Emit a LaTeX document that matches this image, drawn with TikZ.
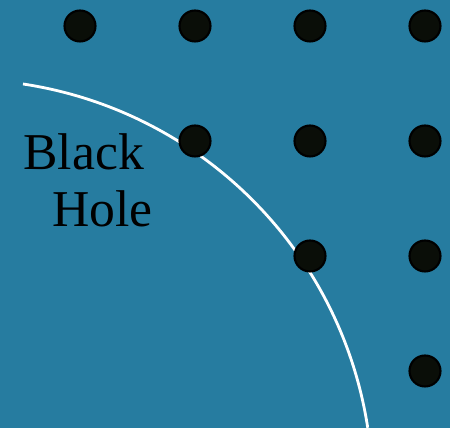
\documentclass[tikz,border=0pt]{standalone}
\usepackage{fontspec}
\setmainfont{Liberation Serif}
\usepackage{tikz}
\usetikzlibrary{positioning}

\definecolor{skyblue}{RGB}{38,124,160}
\definecolor{dotfill}{RGB}{10,14,8}

\begin{document}
\begin{tikzpicture}[x=0.02cm,y=0.02cm,
  dot/.style={circle,fill=dotfill,draw=black,line width=1.2pt,minimum size=0.62cm,inner sep=0pt},
  label/.style={inner sep=0pt,anchor=base west,font=\fontsize{29.4}{34}\selectfont}]
\fill[skyblue] (0,0) rectangle (450,428);
\useasboundingbox (0,0) rectangle (450,428);
% horizon
\coordinate (horizon) at (23,344);
\draw[white,line width=1.6pt] (horizon) arc[start angle=81.4,end angle=8.76,radius=411];
% lattice
\node[dot] (d11) at (80,402) {};
\node[dot] (d12) at (195,402) {};
\node[dot] (d13) at (310,402) {};
\node[dot] (d14) at (425,402) {};
\node[dot] (d22) at (195,287) {};
\node[dot] (d23) at (310,287) {};
\node[dot] (d24) at (425,287) {};
\node[dot] (d33) at (310,172) {};
\node[dot] (d34) at (425,172) {};
\node[dot] (d44) at (425,57) {};
\node[label] (black) at (23,258) {Black};
\node[label] (hole) at (52,201) {Hole};
\end{tikzpicture}
\end{document}
